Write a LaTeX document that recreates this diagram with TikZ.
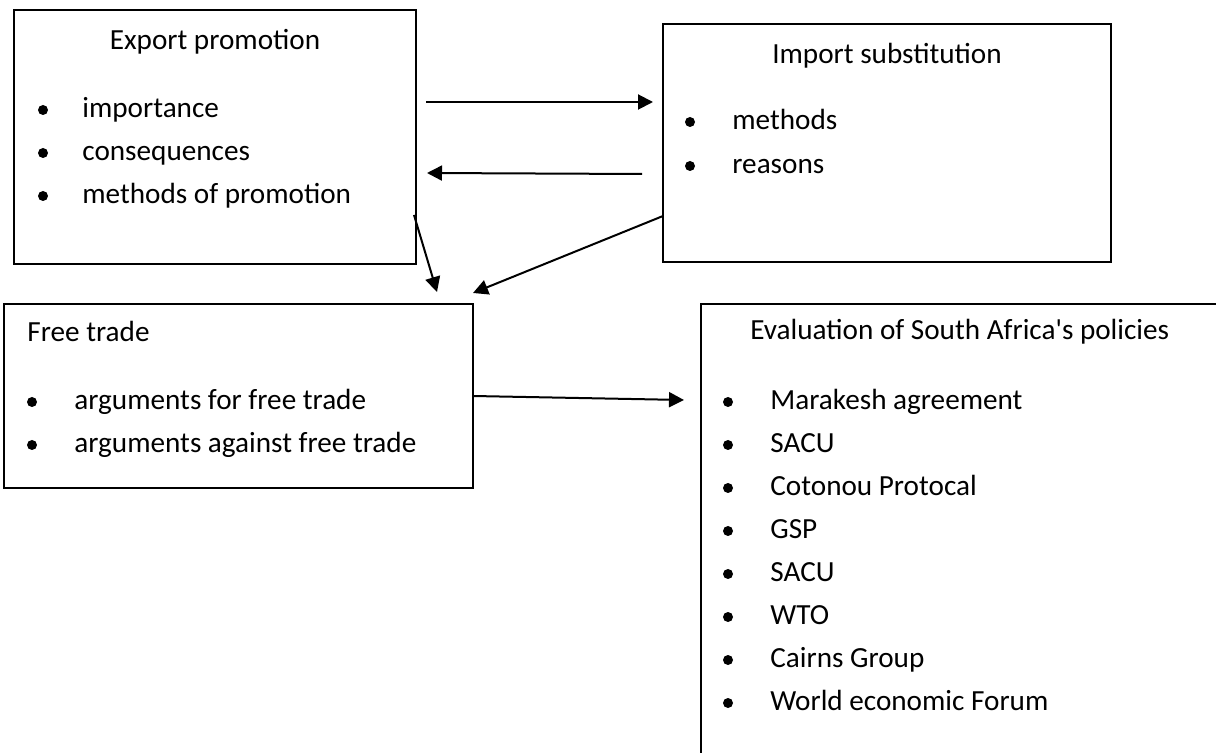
\documentclass[tikz,border=0pt]{standalone}
\usepackage{fontspec}
\setmainfont{Carlito}
\usetikzlibrary{arrows.meta,fit}
\begin{document}
\begin{tikzpicture}[x=0.5pt,y=-0.5pt,
  box/.style={draw,line width=1pt,inner sep=0pt},
  txt/.style={inner sep=0pt,font=\fontsize{14.6}{17}\selectfont,text height=9.05pt,text depth=2.35pt},
  bul/.style={circle,fill,inner sep=0pt,minimum size=5pt,yshift=0.5pt},
  conn/.style={-{Triangle[length=7.5pt,width=7.5pt]},line width=1pt}]
\useasboundingbox (0,0) rectangle (1216,753);
% boxes
\node[box,fit={(14,10) (416,264)}] (ep) {};
\node[box,fit={(663,24) (1111,262)}] (is) {};
\node[box,fit={(4,304) (473,488)}] (ft) {};
\node[box,fit={(701,304) (1240,790)}] (ev) {};
% export promotion
\node[txt] (eptitle) at (215,43) {Export promotion};
\node[bul] (epb1) at (43,111) {};
\node[txt,anchor=west] (ept1) at (82,111) {importance};
\node[bul] (epb2) at (43,154) {};
\node[txt,anchor=west] (ept2) at (82,154) {consequences};
\node[bul] (epb3) at (43,197) {};
\node[txt,anchor=west] (ept3) at (82,197) {methods of promotion};
% import substitution
\node[txt] (istitle) at (887,57) {Import substitution};
\node[bul] (isb1) at (690,123) {};
\node[txt,anchor=west] (ist1) at (732,123) {methods};
\node[bul] (isb2) at (690,167) {};
\node[txt,anchor=west] (ist2) at (732,167) {reasons};
% free trade
\node[txt,anchor=west] (fttitle) at (27,335) {Free trade};
\node[bul] (ftb1) at (32,403) {};
\node[txt,anchor=west] (ftt1) at (74,403) {arguments for free trade};
\node[bul] (ftb2) at (32,446) {};
\node[txt,anchor=west] (ftt2) at (74,446) {arguments against free trade};
% evaluation
\node[txt,anchor=west] (evtitle) at (750,333) {Evaluation of South Africa\textquotesingle s policies};
\foreach \t [count=\i from 0] in {Marakesh agreement,SACU,Cotonou Protocal,GSP,SACU,WTO,Cairns Group,World economic Forum}{
  \node[bul] (evb\i) at (728,403+43*\i) {};
  \node[txt,anchor=west] (evt\i) at (770,403+43*\i) {\t};
}
% connectors
\coordinate (a1s) at (426,102); \coordinate (a1e) at (653,102);
\coordinate (a2s) at (642,174); \coordinate (a2e) at (427,173);
\coordinate (a3s) at (414,215); \coordinate (a3e) at (437,292);
\coordinate (a4s) at (663,216); \coordinate (a4e) at (473,293);
\coordinate (a5s) at (473,396); \coordinate (a5e) at (684,400);
\draw[conn] (a1s) -- (a1e);
\draw[conn] (a2s) -- (a2e);
\draw[conn] (a3s) -- (a3e);
\draw[conn] (a4s) -- (a4e);
\draw[conn] (a5s) -- (a5e);
\end{tikzpicture}
\end{document}
